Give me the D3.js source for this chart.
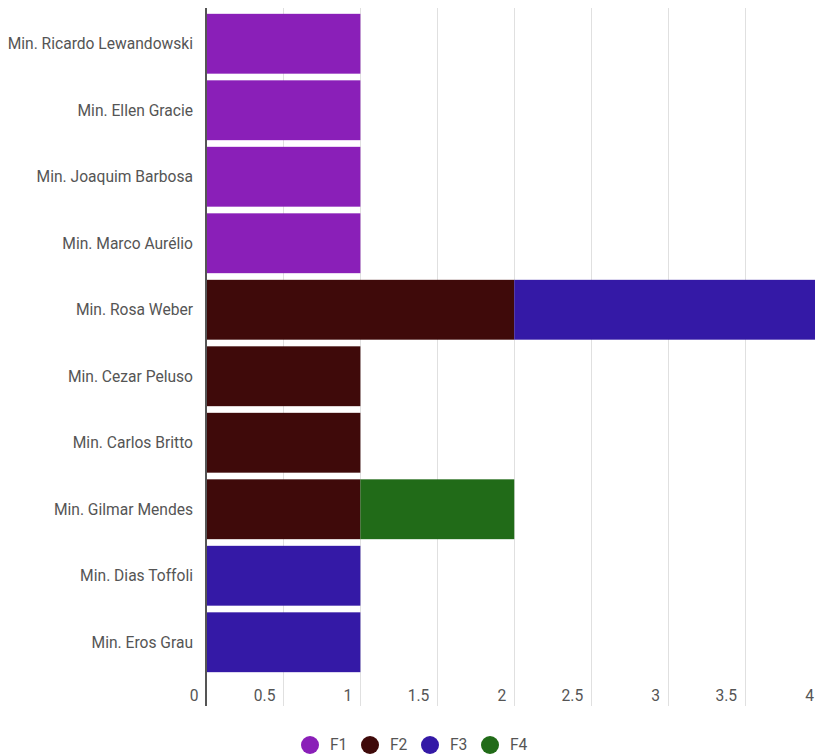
<!DOCTYPE html>
<html><head><meta charset="utf-8">
<script src="https://cdn.jsdelivr.net/npm/d3@7"></script>
<style>body{margin:0;background:#fff;font-family:Roboto,sans-serif;}</style>
</head><body><svg id="c" width="815" height="756"></svg>
<script>
const categories = ["Min. Ricardo Lewandowski","Min. Ellen Gracie","Min. Joaquim Barbosa","Min. Marco Aurélio","Min. Rosa Weber","Min. Cezar Peluso","Min. Carlos Britto","Min. Gilmar Mendes","Min. Dias Toffoli","Min. Eros Grau"];
const seriesNames = ["F1","F2","F3","F4"];
const F1 = [1,1,1,1,0,0,0,0,0,0];
const F2 = [0,0,0,0,2,1,1,1,0,0];
const F3 = [0,0,0,0,2,0,0,0,1,1];
const F4 = [0,0,0,0,0,0,0,1,0,0];
const colors = ["#8a1fb8","#3f0a0a","#3419a6","#216b18"];
const xTicks = [0,0.5,1,1.5,2,2.5,3,3.5,4];

const svg = d3.select("#c");
const x = d3.scaleLinear().domain([0,4]).range([206.5,822]);
const y = d3.scaleBand().domain(categories).range([10.5,675.5]).paddingInner(0.1).paddingOuter(0.05);

const rows = categories.map((c,i)=>({cat:c,F1:F1[i],F2:F2[i],F3:F3[i],F4:F4[i]}));
const stack = d3.stack().keys(seriesNames)(rows);

// gridlines
svg.append("g").selectAll("line").data(xTicks.filter(t=>t>0)).join("line")
  .attr("x1",d=>Math.round(x(d))+0.5).attr("x2",d=>Math.round(x(d))+0.5)
  .attr("y1",8).attr("y2",706).attr("stroke","#e0e0e0").attr("stroke-width",1);

// bars
svg.append("g").selectAll("g").data(stack).join("g").attr("fill",(d,i)=>colors[i])
  .selectAll("rect").data(d=>d.filter(s=>s[1]>s[0])).join("rect")
  .attr("x",d=>x(d[0])).attr("width",d=>x(d[1])-x(d[0]))
  .attr("y",d=>y(d.data.cat)).attr("height",y.bandwidth());

// axis line
svg.append("line").attr("x1",206).attr("x2",206).attr("y1",8).attr("y2",706)
  .attr("stroke","#555").attr("stroke-width",2);

const fs = 15.6, tc = "#555";
// y labels
svg.append("g").selectAll("text").data(categories).join("text")
  .attr("x",193).attr("y",d=>y(d)+y.bandwidth()/2).attr("dy","0.35em")
  .attr("text-anchor","end").attr("font-size",fs).attr("fill",tc).text(d=>d);

// x labels
svg.append("g").selectAll("text").data(xTicks).join("text")
  .attr("x",d=>x(d)-8).attr("y",701).attr("text-anchor","end")
  .attr("font-size",fs).attr("fill",tc).text(d=>d);

// legend
const lg = svg.append("g").selectAll("g").data(seriesNames).join("g")
  .attr("transform",(d,i)=>`translate(${310+i*60},745)`);
lg.append("circle").attr("r",9).attr("fill",(d,i)=>colors[i]);
lg.append("text").attr("x",20).attr("dy","0.35em").attr("font-size",fs).attr("fill",tc).text(d=>d);
</script></body></html>
